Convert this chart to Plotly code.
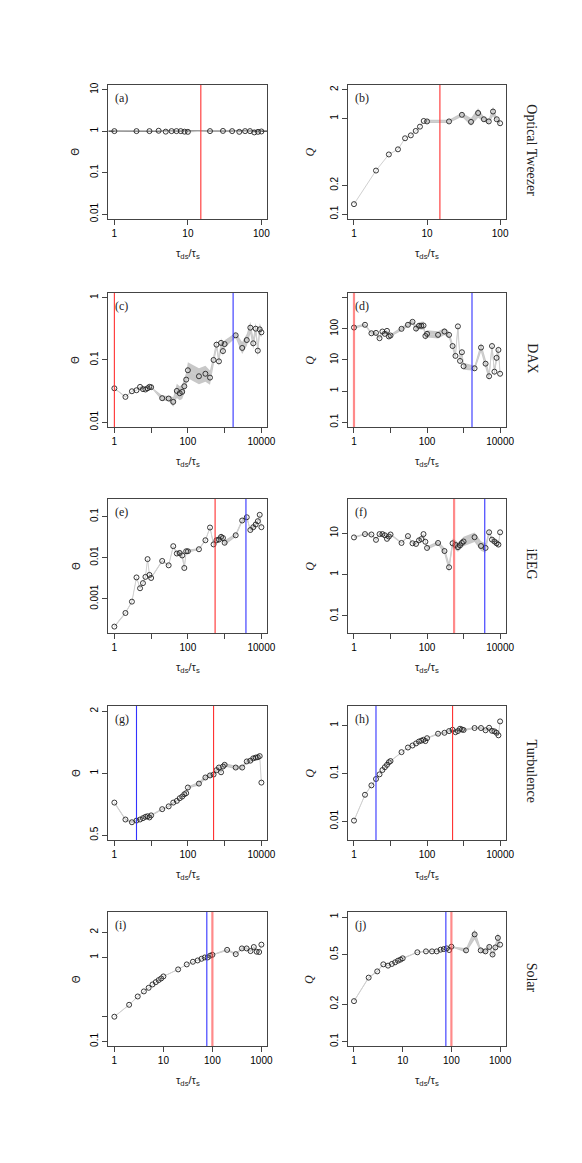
import plotly.graph_objects as go

W, H = 582, 1163

# time scale ratios tau_ds / tau_s
tau_ot = [1, 2, 3, 4, 5, 6, 7, 8, 9, 10, 20, 30, 40, 50, 60, 70, 80, 90, 100]
tau_long = [1, 2, 3, 4, 5, 6, 7, 8, 9, 10,
            20, 30, 40, 50, 60, 70, 80, 90, 100,
            200, 300, 400, 500, 600, 700, 800, 900, 1000,
            2000, 3000, 4000, 5000, 6000, 7000, 8000, 9000, 10000]
tau_solar = [1, 2, 3, 4, 5, 6, 7, 8, 9, 10,
             20, 30, 40, 50, 60, 70, 80, 90, 100,
             200, 300, 400, 500, 600, 700, 800, 900, 1000]

# Optical Tweezer
theta_ot = [1, 1, 1, 1.02, 0.97, 1, 1, 1, 0.97, 0.96, 1, 1.01, 1, 0.96, 1, 1, 0.93, 0.96, 0.98]
q_ot = [0.127, 0.285, 0.42, 0.475, 0.62, 0.665, 0.74, 0.82, 0.94, 0.93,
        0.93, 1.09, 0.92, 1.14, 0.98, 0.93, 1.18, 0.98, 0.89]
q_ot_spread = [1, 1, 1, 1, 1, 1, 1, 1, 1, 1.04, 1.04, 1.05, 1.1, 1.12, 1.06, 1.06, 1.12, 1.05, 1.04]

# DAX
theta_dax = [0.035, 0.0255, 0.0314, 0.0326, 0.0369, 0.034, 0.0335, 0.035, 0.037, 0.0365,
             0.0243, 0.024, 0.0212, 0.0318, 0.0292, 0.0307, 0.0378, 0.0483, 0.0683,
             0.0547, 0.060, 0.052, 0.10, 0.176, 0.095, 0.188, 0.139, 0.18,
             0.249, 0.156, 0.209, 0.33, 0.185, 0.318, 0.141, 0.31, 0.278]
theta_dax_spread = [1.02, 1.02, 1.02, 1.02, 1.02, 1.02, 1.02, 1.02, 1.02, 1.02,
                    1.1, 1.1, 1.2, 1.3, 1.3, 1.3, 1.3, 1.3, 1.35,
                    1.35, 1.35, 1.3, 1.2, 1.2, 1.2, 1.2, 1.2, 1.15,
                    1.1, 1.25, 1.25, 1.25, 1.25, 1.25, 1.25, 1.25, 1.2]
q_dax = [110, 135, 72, 74, 50, 82, 69, 86, 57, 61,
         100, 135, 168, 102, 125, 125, 128, 59, 69,
         64, 82, 64, 28, 13.5, 120, 9.3, 17.7, 6.3,
         5.4, 25, 7.6, 3.0, 28, 4.2, 11.7, 21, 3.6]
q_dax_spread = [1.1, 1.1, 1.1, 1.1, 1.1, 1.1, 1.1, 1.1, 1.1, 1.1,
                1.15, 1.15, 1.15, 1.3, 1.3, 1.35, 1.35, 1.35, 1.3,
                1.3, 1.3, 1.3, 1.3, 1.3, 1.3, 1.3, 1.3, 1.3,
                1.2, 1.4, 1.4, 1.4, 1.4, 1.4, 1.4, 1.4, 1.4]

# iEEG
theta_eeg = [2.1e-4, 4.5e-4, 8.5e-4, 3.3e-3, 1.8e-3, 2.4e-3, 3.4e-3, 9.2e-3, 3.8e-3, 3.2e-3,
             8.3e-3, 6.5e-3, 0.019, 0.0126, 0.013, 0.0113, 5.6e-3, 0.0143, 0.0143,
             0.016, 0.0265, 0.054, 0.021, 0.0265, 0.0275, 0.032, 0.030, 0.023,
             0.035, 0.080, 0.096, 0.047, 0.055, 0.064, 0.077, 0.11, 0.055]
theta_eeg_spread = [1.05, 1.05, 1.05, 1.05, 1.05, 1.05, 1.05, 1.05, 1.05, 1.05,
                    1.05, 1.05, 1.05, 1.1, 1.2, 1.2, 1.2, 1.1, 1.1,
                    1.05, 1.05, 1.05, 1.15, 1.2, 1.2, 1.2, 1.2, 1.15,
                    1.1, 1.1, 1.1, 1.1, 1.1, 1.1, 1.1, 1.1, 1.1]
q_eeg = [7.9, 9.5, 9.3, 6.9, 9.5, 9.5, 8.9, 7.3, 8.3, 9.3,
         5.8, 8.5, 5.7, 5.5, 6.7, 7.2, 9.5, 6.2, 4.4,
         5.8, 3.7, 1.5, 5.7, 5.2, 4.6, 5.1, 5.8, 6.3,
         8.0, 4.9, 4.4, 10.5, 7.0, 6.3, 5.7, 5.3, 10.5]
q_eeg_spread = [1.05, 1.05, 1.05, 1.05, 1.05, 1.05, 1.05, 1.05, 1.05, 1.05,
                1.05, 1.05, 1.05, 1.05, 1.05, 1.05, 1.05, 1.05, 1.1,
                1.1, 1.2, 1.3, 1.3, 1.3, 1.3, 1.3, 1.3, 1.3,
                1.3, 1.3, 1.3, 1.15, 1.15, 1.15, 1.15, 1.15, 1.1]

# Turbulence
theta_turb = [0.72, 0.596, 0.578, 0.589, 0.596, 0.605, 0.614, 0.618, 0.61, 0.624,
              0.669, 0.69, 0.72, 0.734, 0.756, 0.77, 0.79, 0.80, 0.852,
              0.89, 0.953, 0.975, 0.985, 1.034, 1.065, 1.01, 1.077, 1.098,
              1.065, 1.065, 1.14, 1.15, 1.18, 1.19, 1.195, 1.21, 0.90]
theta_turb_spread = [1.01] * 19 + [1.02] * 18
q_turb = [0.0103, 0.0356, 0.056, 0.076, 0.095, 0.117, 0.134, 0.15, 0.17, 0.18,
          0.276, 0.345, 0.38, 0.42, 0.46, 0.48, 0.50, 0.47, 0.54,
          0.67, 0.70, 0.76, 0.81, 0.72, 0.76, 0.85, 0.82, 0.80,
          0.88, 0.88, 0.79, 0.89, 0.77, 0.75, 0.70, 0.62, 1.21]
q_turb_spread = [1.03] * 19 + [1.05] * 18

# Solar
theta_solar = [0.197, 0.273, 0.343, 0.394, 0.435, 0.477, 0.508, 0.537, 0.562, 0.594,
               0.72, 0.826, 0.888, 0.921, 0.964, 1.0, 1.0, 1.05, 1.075,
               1.23, 1.095, 1.28, 1.28, 1.19, 1.33, 1.17, 1.16, 1.42]
theta_solar_spread = [1.01] * 19 + [1.03] * 9
q_solar = [0.211, 0.326, 0.366, 0.417, 0.407, 0.42, 0.433, 0.446, 0.455, 0.466,
           0.521, 0.53, 0.53, 0.53, 0.547, 0.553, 0.56, 0.543, 0.578,
           0.54, 0.726, 0.54, 0.53, 0.575, 0.5, 0.57, 0.68, 0.6]
q_solar_spread = [1.01] * 19 + [1.04, 1.1, 1.04, 1.04, 1.05, 1.05, 1.08, 1.1, 1.08]

row_names = ["Optical Tweezer", "DAX", "iEEG", "Turbulence", "Solar"]

panels = [
    dict(tag="(a)", x=tau_ot, y=theta_ot, sp=None, xr=[-0.08, 2.08], yr=[-2.12, 1.12],
         yt=[0.01, 0.1, 1, 10], ytl=["0.01", "0.1", "1", "10"], red=[15], blue=[], hline=1),
    dict(tag="(b)", x=tau_ot, y=q_ot, sp=q_ot_spread, xr=[-0.08, 2.08], yr=[-1.052, 0.353],
         yt=[0.1, 0.2, 1, 2], ytl=["0.1", "0.2", "1", "2"], red=[15], blue=[]),
    dict(tag="(c)", x=tau_long, y=theta_dax, sp=theta_dax_spread, xr=[-0.16, 4.16], yr=[-2.08, 0.08],
         yt=[0.01, 0.1, 1], ytl=["0.01", "0.1", "1"], red=[1], blue=[1700]),
    dict(tag="(d)", x=tau_long, y=q_dax, sp=q_dax_spread, xr=[-0.16, 4.16], yr=[-1.16, 3.16],
         yt=[0.1, 1, 10, 100, 1000], ytl=["0.1", "1", "10", "100", ""], red=[1], blue=[1700], thick=True),
    dict(tag="(e)", x=tau_long, y=theta_eeg, sp=theta_eeg_spread, xr=[-0.16, 4.16], yr=[-3.84, -0.57],
         yt=[0.001, 0.01, 0.1], ytl=["0.001", "0.01", "0.1"], red=[550], blue=[3800]),
    dict(tag="(f)", x=tau_long, y=q_eeg, sp=q_eeg_spread, xr=[-0.16, 4.16], yr=[-1.42, 1.83],
         yt=[0.1, 1, 10], ytl=["0.1", "1", "10"], red=[550], blue=[3800], thick=True),
    dict(tag="(g)", x=tau_long, y=theta_turb, sp=theta_turb_spread, xr=[-0.16, 4.16], yr=[-0.326, 0.326],
         yt=[0.5, 1, 2], ytl=["0.5", "1", "2"], red=[500], blue=[4]),
    dict(tag="(h)", x=tau_long, y=q_turb, sp=q_turb_spread, xr=[-0.16, 4.16], yr=[-2.4, 0.405],
         yt=[0.01, 0.1, 1], ytl=["0.01", "0.1", "1"], red=[500], blue=[4]),
    dict(tag="(i)", x=tau_solar, y=theta_solar, sp=theta_solar_spread, xr=[-0.12, 3.12], yr=[-1.06, 0.54],
         yt=[0.1, 0.2, 1, 2], ytl=["0.1", "", "1", "2"], red=[100], blue=[77], thick=True),
    dict(tag="(j)", x=tau_solar, y=q_solar, sp=q_solar_spread, xr=[-0.12, 3.12], yr=[-1.04, 0.04],
         yt=[0.1, 0.2, 0.5, 1], ytl=["0.1", "0.2", "0.5", "1"], red=[100], blue=[77], thick=True),
]

# panel geometry in pixels
col_px = [(110, 271), (353, 513)]
row_top = [83, 292, 499, 707, 914]
box_h = 135

TICK_FONT = dict(family="Liberation Sans", size=10, color="black")
SERIF = "Liberation Serif"

fig = go.Figure()
annotations = []
layout = {}


def px_x(p):
    return p / W


def px_y(p):
    return 1 - p / H


for k, p in enumerate(panels):
    row, col = divmod(k, 2)
    s = "" if k == 0 else str(k + 1)
    xa, ya = "x" + s, "y" + s
    x0, x1 = col_px[col]
    top = row_top[row]
    bot = top + box_h

    # uncertainty band
    if p["sp"] is not None:
        hi = [v * f for v, f in zip(p["y"], p["sp"])]
        lo = [v / f for v, f in zip(p["y"], p["sp"])]
        fig.add_trace(go.Scatter(
            x=p["x"] + p["x"][::-1], y=hi + lo[::-1], xaxis=xa, yaxis=ya,
            fill="toself", fillcolor="#c8c8c8", line=dict(width=0),
            mode="lines", hoverinfo="skip", showlegend=False))

    if p.get("hline") is not None:
        fig.add_trace(go.Scatter(x=[1e-3, 1e6], y=[p["hline"]] * 2, xaxis=xa, yaxis=ya,
                                 mode="lines", line=dict(color="black", width=1),
                                 showlegend=False))

    fig.add_trace(go.Scatter(
        x=p["x"], y=p["y"], xaxis=xa, yaxis=ya, mode="lines+markers",
        line=dict(color="#d0d0d0", width=1),
        marker=dict(symbol="circle-open", size=5, color="#222", line=dict(width=0.9)),
        showlegend=False))

    for v in p["blue"]:
        fig.add_trace(go.Scatter(x=[v, v], y=[1e-8, 1e8], xaxis=xa, yaxis=ya, mode="lines",
                                 line=dict(color="#3333ff", width=1.1), showlegend=False))
    for v in p["red"]:
        if p.get("thick"):
            line = dict(color="rgba(255,60,60,0.6)", width=2.2)
        else:
            line = dict(color="#ff3030", width=1.1)
        fig.add_trace(go.Scatter(x=[v, v], y=[1e-8, 1e8], xaxis=xa, yaxis=ya, mode="lines",
                                 line=line, showlegend=False))

    if p["xr"][1] > 3.5:
        xt, xtl = [1, 10, 100, 1000, 10000], ["1", "", "100", "", "10000"]
    elif p["xr"][1] > 2.5:
        xt, xtl = [1, 10, 100, 1000], ["1", "10", "100", "1000"]
    else:
        xt, xtl = [1, 10, 100], ["1", "10", "100"]

    axis_common = dict(type="log", showline=True, mirror=True, linecolor="#444", linewidth=1,
                       ticks="outside", ticklen=5, tickcolor="#444", tickwidth=1,
                       showgrid=False, zeroline=False, tickfont=TICK_FONT)
    layout["xaxis" + s] = dict(axis_common, domain=[px_x(x0), px_x(x1)], anchor=ya,
                               range=p["xr"], tickvals=xt, ticktext=xtl, tickangle=0)
    layout["yaxis" + s] = dict(axis_common, domain=[px_y(bot), px_y(top)], anchor=xa,
                               range=p["yr"], tickvals=p["yt"], ticktext=p["ytl"], tickangle=-90)

    # panel tag
    annotations.append(dict(x=px_x(x0 + 5), y=px_y(top + 13), xref="paper", yref="paper",
                            text=p["tag"], showarrow=False, xanchor="left", yanchor="middle",
                            font=dict(family=SERIF, size=12, color="#222")))
    # x axis title
    annotations.append(dict(x=px_x((x0 + x1) / 2), y=px_y(bot + 35), xref="paper", yref="paper",
                            text="τ<sub>ds</sub>/τ<sub>s</sub>", showarrow=False,
                            xanchor="center", yanchor="middle",
                            font=dict(family="Liberation Sans", size=11, color="#222")))
    # y axis title
    ylab = "Θ" if col == 0 else "<i>Q</i>"
    annotations.append(dict(x=px_x(x0 - 33 if col == 0 else x0 - 39), y=px_y((top + bot) / 2),
                            xref="paper", yref="paper", text=ylab, showarrow=False,
                            textangle=-90, xanchor="center", yanchor="middle",
                            font=dict(family="DejaVu Sans" if col == 0 else SERIF,
                                      size=10 if col == 0 else 12, color="#222")))

for r, name in enumerate(row_names):
    annotations.append(dict(x=px_x(539), y=px_y(row_top[r] + box_h / 2 - 2), xref="paper", yref="paper",
                            text=name, showarrow=False, textangle=90,
                            xanchor="center", yanchor="middle",
                            font=dict(family=SERIF, size=14, color="#222")))

fig.update_layout(width=W, height=H, margin=dict(l=0, r=0, t=0, b=0),
                  plot_bgcolor="white", paper_bgcolor="white",
                  annotations=annotations, **layout)

# drop the default page margin so the figure sits at the window's corner
fig.write_html("out.html", config={"displayModeBar": False},
               post_script="document.body.style.margin='0px';")
